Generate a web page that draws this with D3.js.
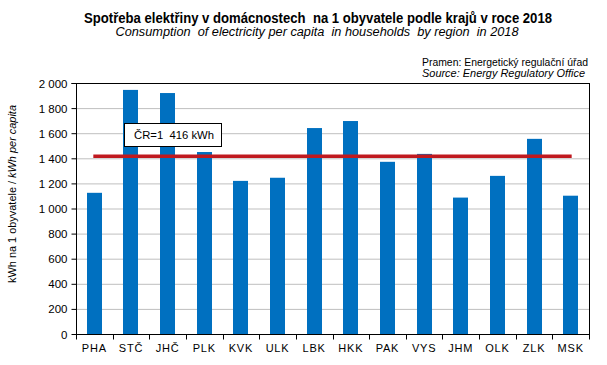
<!DOCTYPE html>
<html><head><meta charset="utf-8">
<script src="https://cdn.jsdelivr.net/npm/d3@7"></script>
<style>body{margin:0;background:#fff}svg{display:block}text{font-family:"Liberation Sans",Arial,sans-serif;white-space:pre}</style>
</head><body><svg id="c" width="607" height="365"></svg>
<script>
const categories = ["PHA","STČ","JHČ","PLK","KVK","ULK","LBK","HKK","PAK","VYS","JHM","OLK","ZLK","MSK"];
const values = [1125,1945,1920,1450,1220,1245,1641,1697,1372,1435,1087,1260,1555,1102];
const average = 1416;
const yTicks = [0,200,400,600,800,1000,1200,1400,1600,1800,2000];
const titleCz = "Spotřeba elektřiny v domácnostech  na 1 obyvatele podle krajů v roce 2018";
const titleEn = "Consumption  of electricity per capita  in households  by region  in 2018";
const sourceCz = "Pramen: Energetický regulační úřad";
const sourceEn = "Source: Energy Regulatory Office";
const avgLabel = "ČR=1  416 kWh";

const svg = d3.select("#c");
const m = {l:76, r:589, t:83, b:334};
const xb = d3.scaleBand().domain(categories).range([m.l, m.r]);
const y = d3.scaleLinear().domain([0,2000]).range([m.b, m.t]);

// gridlines
svg.append("g").selectAll("line").data(yTicks.filter(d=>d>0)).join("line")
  .attr("x1", m.l).attr("x2", m.r).attr("y1", d=>y(d)+0.5).attr("y2", d=>y(d)+0.5)
  .attr("stroke", d=> d===2000 ? "#000" : "#bfbfbf").attr("stroke-width",1);
// right border
svg.append("line").attr("x1", m.r+0.5).attr("x2", m.r+0.5).attr("y1", m.t).attr("y2", m.b).attr("stroke","#000");

// bars
svg.append("g").selectAll("rect").data(values).join("rect")
  .attr("x", (d,i)=>Math.round(xb(categories[i]) + xb.bandwidth()/2 - 7.5))
  .attr("width", 15)
  .attr("y", d=>y(d)).attr("height", d=>m.b - y(d))
  .attr("fill", "#0070C0");

// y axis
const ya = d3.axisLeft(y).tickValues(yTicks).tickSize(5).tickFormat(d=>d3.format(",")(d).replace(/,/g," "));
const gy = svg.append("g").attr("transform", `translate(${m.l+0.5},0)`).call(ya);
gy.select(".domain").attr("d", `M-5,${m.t+0.5}H0V${m.b+0.5}`).attr("stroke","#000");
gy.selectAll(".tick line").attr("stroke","#000");
gy.selectAll(".tick text").attr("font-size", 11.5).attr("fill","#000").attr("x", -9).attr("dy","0.35em");

// x axis
const gx = svg.append("g").attr("transform", `translate(0,${m.b+0.5})`);
gx.append("line").attr("x1", m.l).attr("x2", m.r+1).attr("y1",0).attr("y2",0).attr("stroke","#000");
gx.selectAll("line.t").data(categories.concat(["_end"])).join("line").attr("class","t")
  .attr("x1",(d,i)=> Math.round(m.l + i*xb.step())+0.5).attr("x2",(d,i)=> Math.round(m.l + i*xb.step())+0.5)
  .attr("y1",0).attr("y2",5).attr("stroke","#000");
gx.selectAll("text").data(categories).join("text")
  .attr("x", d=> xb(d)+xb.bandwidth()/2).attr("y", 17)
  .attr("text-anchor","middle").attr("font-size", 11).attr("letter-spacing", 0.8).attr("fill","#000").text(d=>d);

// average line
svg.append("line")
  .attr("x1", xb(categories[0]) + xb.bandwidth()/2 - 1)
  .attr("x2", xb(categories[categories.length-1]) + xb.bandwidth()/2 + 1)
  .attr("y1", y(average)).attr("y2", y(average))
  .attr("stroke", "#C0191F").attr("stroke-width", 3.5);

// avg label box
svg.append("rect").attr("x",124.5).attr("y",123.5).attr("width",97).attr("height",23)
  .attr("fill","#fff").attr("stroke","#000").attr("stroke-width",1);
svg.append("text").attr("x",134).attr("y",139).attr("font-size",11.5).attr("fill","#000")
  .attr("textLength",80).attr("lengthAdjust","spacingAndGlyphs").text(avgLabel);

// titles
svg.append("text").attr("x",84).attr("y",22.5)
  .attr("font-weight","bold").attr("font-size",14).attr("fill","#000")
  .attr("textLength",468).attr("lengthAdjust","spacingAndGlyphs").text(titleCz);
svg.append("text").attr("x",115.5).attr("y",36)
  .attr("font-style","italic").attr("font-size",12).attr("fill","#000")
  .attr("textLength",403).attr("lengthAdjust","spacingAndGlyphs").text(titleEn);
svg.append("text").attr("x",422).attr("y",66).attr("font-size",11.5).attr("fill","#000")
  .attr("textLength",166).attr("lengthAdjust","spacingAndGlyphs").text(sourceCz);
svg.append("text").attr("x",422).attr("y",77).attr("font-size",11.5).attr("font-style","italic").attr("fill","#000")
  .attr("textLength",163).attr("lengthAdjust","spacingAndGlyphs").text(sourceEn);

// y axis title
const yt = svg.append("text").attr("transform","translate(16,194) rotate(-90)").attr("text-anchor","middle")
  .attr("font-size",11).attr("fill","#000").attr("textLength",178).attr("lengthAdjust","spacingAndGlyphs");
yt.append("tspan").text("kWh na 1 obyvatele / ");
yt.append("tspan").attr("font-style","italic").text("kWh per capita");
</script></body></html>
